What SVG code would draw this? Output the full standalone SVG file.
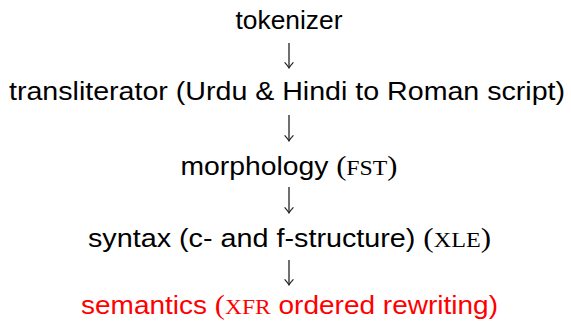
<svg xmlns="http://www.w3.org/2000/svg" width="571" height="322" viewBox="0 0 571 322">
  <style>
    .lbl { font-family: "Liberation Sans", Arial, sans-serif; font-size: 25px; fill: #000; text-anchor: middle; }
    .sc { font-family: "Liberation Serif", "Times New Roman", serif; font-size: 21px; }
    .par { font-family: "Liberation Serif", "Times New Roman", serif; font-size: 27px; }
    .red { fill: #ff0000; }
    .arrow { stroke: #222; stroke-width: 1.3; fill: none; }
  </style>
  <defs>
    <!-- curved open arrowhead, drawn pointing along +x -->
    <marker id="head" viewBox="0 0 7 10" refX="6.3" refY="5" markerWidth="7" markerHeight="10" markerUnits="userSpaceOnUse" orient="auto">
      <path d="M0.6,0.6 Q3.8,3.6 6.3,5 Q3.8,6.4 0.6,9.4" fill="none" stroke="#222" stroke-width="1.1"/>
    </marker>
  </defs>

  <g id="tokenizer">
    <text class="lbl" x="289" y="29" textLength="107" lengthAdjust="spacingAndGlyphs">tokenizer</text>
  </g>
  <g id="transliterator">
    <text class="lbl" x="287" y="100" textLength="556" lengthAdjust="spacingAndGlyphs">transliterator (Urdu &amp; Hindi to Roman script)</text>
  </g>
  <g id="morphology">
    <text class="lbl" x="289" y="175" textLength="217" lengthAdjust="spacingAndGlyphs">morphology <tspan class="par">(</tspan><tspan class="sc">FST</tspan><tspan class="par">)</tspan></text>
  </g>
  <g id="syntax">
    <text class="lbl" x="289.5" y="247" textLength="403" lengthAdjust="spacingAndGlyphs">syntax (c- and f-structure) <tspan class="par">(</tspan><tspan class="sc">XLE</tspan><tspan class="par">)</tspan></text>
  </g>
  <g id="semantics">
    <text class="lbl red" x="289.5" y="314" textLength="417" lengthAdjust="spacingAndGlyphs">semantics <tspan class="par">(</tspan><tspan class="sc">XFR</tspan> ordered rewriting)</text>
  </g>

  <g id="connectors">
    <line class="arrow" x1="289" y1="43" x2="289" y2="68" marker-end="url(#head)"/>
    <line class="arrow" x1="289" y1="115" x2="289" y2="141" marker-end="url(#head)"/>
    <line class="arrow" x1="289" y1="187" x2="289" y2="213" marker-end="url(#head)"/>
    <line class="arrow" x1="289" y1="260" x2="289" y2="285" marker-end="url(#head)"/>
  </g>
</svg>
